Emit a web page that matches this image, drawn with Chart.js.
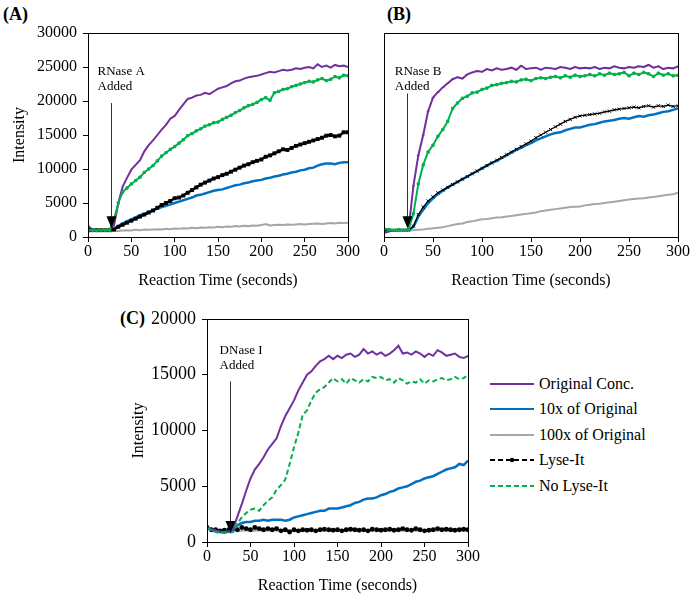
<!DOCTYPE html>
<html>
<head>
<meta charset="utf-8">
<script src="https://cdn.jsdelivr.net/npm/chart.js@4.4.1/dist/chart.umd.min.js"></script>
<style>
body { margin: 0; background: #fff; width: 695px; height: 597px; position: relative; overflow: hidden; font-family: "Liberation Serif", "Times New Roman", serif; }
canvas { position: absolute; }
.tag { position: absolute; font-weight: bold; font-size: 18px; font-family: "Liberation Serif", serif; }
#legend { position: absolute; left: 490px; top: 371px; font-size: 16px; font-family: "Liberation Serif", serif; }
#legend div { height: 25.5px; display: flex; align-items: center; }
#legend svg { margin-right: 5px; }
</style>
</head>
<body>
<div class="tag" style="left:3px;top:4px">(A)</div>
<div class="tag" style="left:387px;top:4px">(B)</div>
<div class="tag" style="left:120px;top:308px">(C)</div>
<canvas id="chartA" width="360" height="292" style="left:0;top:0"></canvas>
<canvas id="chartB" width="320" height="292" style="left:370px;top:0"></canvas>
<canvas id="chartC" width="360" height="297" style="left:120px;top:300px"></canvas>
<div id="legend"></div>
<script>
// reaction time (s)
var times = [0,5,10,15,20,25,30,35,40,45,50,55,60,65,70,75,80,85,90,95,100,105,110,115,120,125,130,135,140,145,150,
  155,160,165,170,175,180,185,190,195,200,205,210,215,220,225,230,235,240,245,250,255,260,265,270,275,280,285,290,295,300];

var names = ['Original Conc.', '10x of Original', '100x of Original', 'Lyse-It', 'No Lyse-It'];

// (A) RNase A
var aOrig = [1700,1000,1050,950,1000,1000,1700,5000,7400,8700,9900,10600,11300,12600,13500,14200,15000,15800,16500,17400,17800,
  18700,19500,20300,20500,20800,20900,21200,21000,21400,21800,22000,22200,22600,22900,23000,23300,23500,23600,23700,23900,
  24100,24300,24200,24400,24600,24500,24600,24800,24700,24900,25000,24800,25400,25000,25200,24900,25300,25100,25200,25000];
var a10x = [1100,1000,1000,1000,1000,1000,1200,1600,2000,2300,2600,2900,3200,3400,3700,3900,4200,4400,4600,4800,5000,
  5200,5400,5600,5800,6100,6200,6400,6600,6800,6900,7000,7200,7400,7600,7700,7900,8000,8200,8300,8400,
  8600,8700,8900,9000,9200,9300,9500,9600,9800,9900,10100,10200,10500,10700,10800,10800,10700,10900,11000,11000];
var a100x = [1000,1000,1000,1000,1000,1000,900,900,950,1000,950,1050,1000,1100,1050,1100,1150,1100,1200,1150,1250,
  1200,1300,1250,1350,1300,1400,1350,1450,1400,1500,1450,1550,1500,1600,1550,1650,1600,1700,1650,1750,
  1900,1700,1750,1800,1750,1850,1800,1850,1900,1850,1900,1950,2000,1900,2000,2050,2000,2100,2050,2100];
var aLyse = [1000,1000,1000,1000,1000,1000,1100,1500,1800,2100,2400,2700,3000,3300,3600,3900,4300,4700,5000,5300,5700,
  5800,6100,6500,6900,7300,7700,8000,8300,8600,8800,9100,9300,9600,9900,10200,10500,10700,11000,11200,11400,
  11800,12000,12300,12600,12900,12800,13100,13400,13600,13800,14000,14200,14400,14600,14900,15000,14800,14900,15400,15400];
var aNo = [1000,1000,950,1000,1000,1000,2600,5000,6600,7200,7800,8300,8800,9500,10000,10500,11200,11900,12400,12900,13300,
  13800,14300,14900,15200,15600,15900,16300,16500,16800,16900,17300,17600,17900,18300,18600,19000,19300,19500,19800,20200,
  20500,20100,21200,21400,21700,21800,22100,22300,22500,22700,22900,22800,23100,23300,23000,23200,23600,23400,23800,23700];

// (B) RNase B
var bOrig = [600,800,1000,1000,1100,1000,7500,12000,15000,18500,20500,21300,22000,22600,23200,23500,23300,23900,24200,24400,24300,
  24700,24500,24800,24600,24700,24900,24600,25200,24700,24800,24900,24600,24900,24800,24700,25000,24900,24700,25000,24800,
  24900,24800,25000,24700,24900,24800,25100,24900,24800,25000,24900,25100,25000,25300,24900,25100,24700,24900,24800,25100];
var b10x = [1000,1000,1000,1000,1000,1000,1500,3000,4000,5000,5700,6300,6800,7300,7700,8100,8500,8900,9300,9700,10100,
  10500,10900,11200,11600,12000,12400,12800,13100,13500,13800,14200,14500,14800,15100,15300,15400,15700,15900,16100,16100,
  16300,16500,16600,16800,17000,17100,17200,17400,17500,17400,17600,17800,17700,17900,18000,18200,18400,18500,18700,18900];
var b100x = [1000,1100,1000,1050,1000,1000,1000,1050,1100,1200,1300,1350,1450,1600,1750,1900,2000,2200,2300,2450,2600,
  2650,2750,2850,2900,3000,3100,3200,3300,3400,3500,3600,3800,3900,4000,4100,4200,4300,4400,4450,4500,
  4650,4750,4850,4900,5000,5100,5200,5300,5400,5500,5600,5650,5700,5800,5900,6000,6100,6200,6300,6500];
var bLyse = [1000,1000,1000,1000,1000,1000,1600,3300,4400,5300,5900,6500,6900,7300,7700,8100,8500,8900,9300,9700,10100,
  10500,10900,11300,11700,12100,12500,12900,13300,13700,14100,14600,15000,15400,15800,16200,16600,17000,17300,17600,17800,
  17900,18000,18100,18200,18400,18500,18700,18800,18900,19000,19100,19000,19200,19300,19100,19300,19200,19400,19200,19300];
var bNo = [1200,1100,1000,1100,1000,1100,3400,7800,10600,12500,13500,14800,15800,17000,18900,19700,20400,20700,21200,21300,21700,
  21900,22300,22400,22600,22700,22900,22800,23100,23200,23000,23300,23400,23300,23500,23600,23400,23700,23500,23800,23600,
  23700,23900,23700,24000,23800,24100,23900,24000,24200,23700,24100,23900,24200,24000,23600,24100,23800,24000,23700,23800];

// (C) DNase I
var cOrig = [1300,1100,1000,900,900,900,1200,2300,3400,4600,5700,6500,7000,7600,8300,8800,9300,10400,11300,12000,12700,
  13600,14300,15000,15300,15800,16200,16400,16700,16400,16700,16500,16800,16900,16600,16800,17300,16900,17100,16800,17000,
  16700,16900,17200,17600,16900,17000,16800,17100,16900,16600,16900,16700,17200,17000,16700,16800,16900,16600,16500,16700];
var c10x = [1300,1100,1000,900,900,950,1100,1500,1700,1800,1800,1900,1900,2000,1900,2000,2000,2000,1900,2000,2200,
  2300,2400,2500,2600,2700,2800,2800,3000,3000,3000,3100,3200,3300,3500,3600,3800,3900,3900,4000,4200,
  4300,4500,4600,4800,4900,5000,5200,5400,5500,5700,5800,5900,6100,6300,6500,6600,6700,7000,6900,7300];
var c100x = [1200,1050,1000,1000,1000,1000,1050,1000,1000,1050,1000,1000,1050,1000,1000,1050,1000,1000,1000,1050,1000,
  1000,1050,1000,1000,1000,1050,1000,1000,1050,1000,1000,1000,1050,1000,1000,1050,1000,1000,1000,1050,
  1000,1000,1050,1000,1000,1000,1050,1000,1000,1050,1000,1000,1000,1050,1000,1000,1050,1000,1000,1000];
var cLyse = [1300,1100,1100,1000,1050,1100,1200,1100,1300,1200,1100,1300,1200,1100,1200,1100,1200,1000,1100,900,1100,
  1000,1100,1050,1100,1000,1100,1150,1100,1050,1100,1000,1100,1150,1100,1050,1100,1000,1150,1100,1050,
  1100,1150,1050,1100,1200,1100,1050,1200,1100,1000,1050,1100,1200,1100,1150,1100,1050,1100,1150,1100];
var cNo = [1300,1000,900,800,800,850,900,1700,2200,2600,2900,3000,2800,3300,3700,4000,4700,5100,5600,7000,8500,
  9800,11400,11800,12700,13400,13700,13900,14300,14700,14400,14600,14200,14700,14500,14300,14600,14400,14800,14700,14800,
  14500,14600,14300,14700,14500,14200,14400,14300,14600,14200,14500,14400,14600,14700,14500,14600,14800,14600,14700,15000];

var colors = ['#7030A0', '#0070C0', '#A6A6A6', '#000000', '#00B050'];

var serif = '"Liberation Serif", "Times New Roman", serif';
Chart.defaults.font.family = serif;
Chart.defaults.font.size = 16;
Chart.defaults.font.weight = 'normal';
Chart.defaults.color = '#000';

function pts(vals) {
  return times.map(function (t, i) { return { x: t, y: vals[i] }; });
}

// box around the plot + "enzyme added" arrow
function extras(note) {
  return {
    id: 'extras',
    afterDatasetsDraw: function (chart) {
      var c = chart.ctx, a = chart.chartArea;
      var xs = chart.scales.x, ys = chart.scales.y;
      c.save();
      c.strokeStyle = '#000';
      c.lineWidth = 1;
      c.strokeRect(Math.round(a.left) + 0.5, Math.round(a.top) + 0.5, Math.round(a.right - a.left), Math.round(a.bottom - a.top));

      var ax = Math.round(xs.getPixelForValue(note.x)) + 0.5;
      var top = ys.getPixelForValue(note.from);
      var tip = ys.getPixelForValue(note.to);
      c.strokeStyle = '#333';
      c.beginPath();
      c.moveTo(ax, top);
      c.lineTo(ax, tip - 10);
      c.stroke();
      c.fillStyle = '#000';
      c.beginPath();
      c.moveTo(ax - 5, tip - 12);
      c.lineTo(ax + 5, tip - 12);
      c.lineTo(ax, tip);
      c.closePath();
      c.fill();

      c.font = '13px ' + serif;
      c.textBaseline = 'middle';
      c.textAlign = 'left';
      var tx = xs.getPixelForValue(note.textX), ty = ys.getPixelForValue(note.textY);
      c.fillText(note.lines[0], tx, ty);
      c.fillText(note.lines[1], tx, ty + 15);
      c.restore();
    }
  };
}

function makeChart(id, sets, ymax, yw, padTop, padRight, showY, ySize, titlePad, note) {
  return new Chart(document.getElementById(id).getContext('2d'), {
    type: 'line',
    data: { datasets: sets },
    options: {
      responsive: false,
      animation: false,
      layout: { padding: { top: padTop, right: padRight, left: 0, bottom: 0 } },
      plugins: { legend: { display: false }, tooltip: { enabled: false } },
      elements: { line: { tension: 0, borderWidth: 2 }, point: { radius: 0 } },
      scales: {
        x: {
          type: 'linear', min: 0, max: 300,
          ticks: { stepSize: 50, padding: 0, callback: function (v) { return String(v); } },
          grid: { drawOnChartArea: false, drawTicks: true, tickLength: 5, color: '#000' },
          border: { color: '#000' },
          title: { display: true, text: 'Reaction Time (seconds)', padding: { top: 0, bottom: 2 } },
          afterFit: function (s) { s.height = 55; }
        },
        y: {
          min: 0, max: ymax,
          ticks: { stepSize: 5000, display: showY, padding: 6, font: { size: ySize }, callback: function (v) { return String(v); } },
          grid: { drawOnChartArea: false, drawTicks: showY, tickLength: 5, color: '#000' },
          border: { color: '#000' },
          title: { display: showY, text: 'Intensity', padding: { top: titlePad, bottom: 0 } },
          afterFit: function (s) { s.width = yw; }
        }
      }
    },
    plugins: [extras(note)]
  });
}

// panel (A)
makeChart('chartA', [
  { label: names[4], data: pts(aNo), borderColor: colors[4], backgroundColor: colors[4], pointStyle: 'rect', pointRadius: 1.6, order: 1 },
  { label: names[3], data: pts(aLyse), borderColor: colors[3], backgroundColor: colors[3], borderWidth: 2.5, pointStyle: 'rect', pointRadius: 1, order: 2 },
  { label: names[0], data: pts(aOrig), borderColor: colors[0], order: 3 },
  { label: names[1], data: pts(a10x), borderColor: colors[1], borderWidth: 2.5, order: 4 },
  { label: names[2], data: pts(a100x), borderColor: colors[2], order: 5 }
], 30000, 88, 33, 7, true, 16, 10, { x: 26, from: 19700, to: 1300, textX: 11, textY: 24300, lines: ['RNase A', 'Added'] });

// panel (B)
makeChart('chartB', [
  { label: names[4], data: pts(bNo), borderColor: colors[4], backgroundColor: colors[4], pointStyle: 'rect', pointRadius: 1.6, order: 1 },
  { label: names[0], data: pts(bOrig), borderColor: colors[0], backgroundColor: colors[0], pointStyle: 'line', pointRadius: 1.5, order: 2 },
  { label: names[3], data: pts(bLyse), borderColor: colors[3], borderWidth: 1.2, pointStyle: 'crossRot', pointRadius: 2.2, pointBorderWidth: 1, order: 3 },
  { label: names[1], data: pts(b10x), borderColor: colors[1], borderWidth: 2.5, order: 4 },
  { label: names[2], data: pts(b100x), borderColor: colors[2], order: 5 }
], 30000, 14, 33, 12, false, 16, 4, { x: 23, from: 21100, to: 1300, textX: 11, textY: 24400, lines: ['RNase B', 'Added'] });

// panel (C)
makeChart('chartC', [
  { label: names[0], data: pts(cOrig), borderColor: colors[0], order: 2 },
  { label: names[1], data: pts(c10x), borderColor: colors[1], borderWidth: 2.5, order: 3 },
  { label: names[2], data: pts(c100x), borderColor: colors[2], order: 5 },
  { label: names[3], data: pts(cLyse), borderColor: colors[3], backgroundColor: colors[3], borderWidth: 2.5, borderDash: [5, 2], pointRadius: 1.2, order: 4 },
  { label: names[4], data: pts(cNo), borderColor: colors[4], borderDash: [5, 3], order: 1 }
], 20000, 87, 19, 7, true, 18, 9, { x: 27, from: 14400, to: 800, textX: 14.5, textY: 17200, lines: ['DNase I', 'Added'] });

// legend for the shared series
var dashes = [false, false, false, true, true];
var dots = [true, true, true, true, false];
var html = '';
for (var i = 0; i < names.length; i++) {
  html += '<div><svg width="44" height="10"><line x1="0" y1="5" x2="44" y2="5" stroke="' + colors[i] + '" stroke-width="2"' +
    (dashes[i] ? ' stroke-dasharray="5,3"' : '') + '/>' +
    (dots[i] ? '<circle cx="22" cy="5" r="' + (i == 3 ? 2.2 : 1.3) + '" fill="' + colors[i] + '"/>' : '') +
    '</svg>' + names[i] + '</div>';
}
document.getElementById('legend').innerHTML = html;
</script>
</body>
</html>
